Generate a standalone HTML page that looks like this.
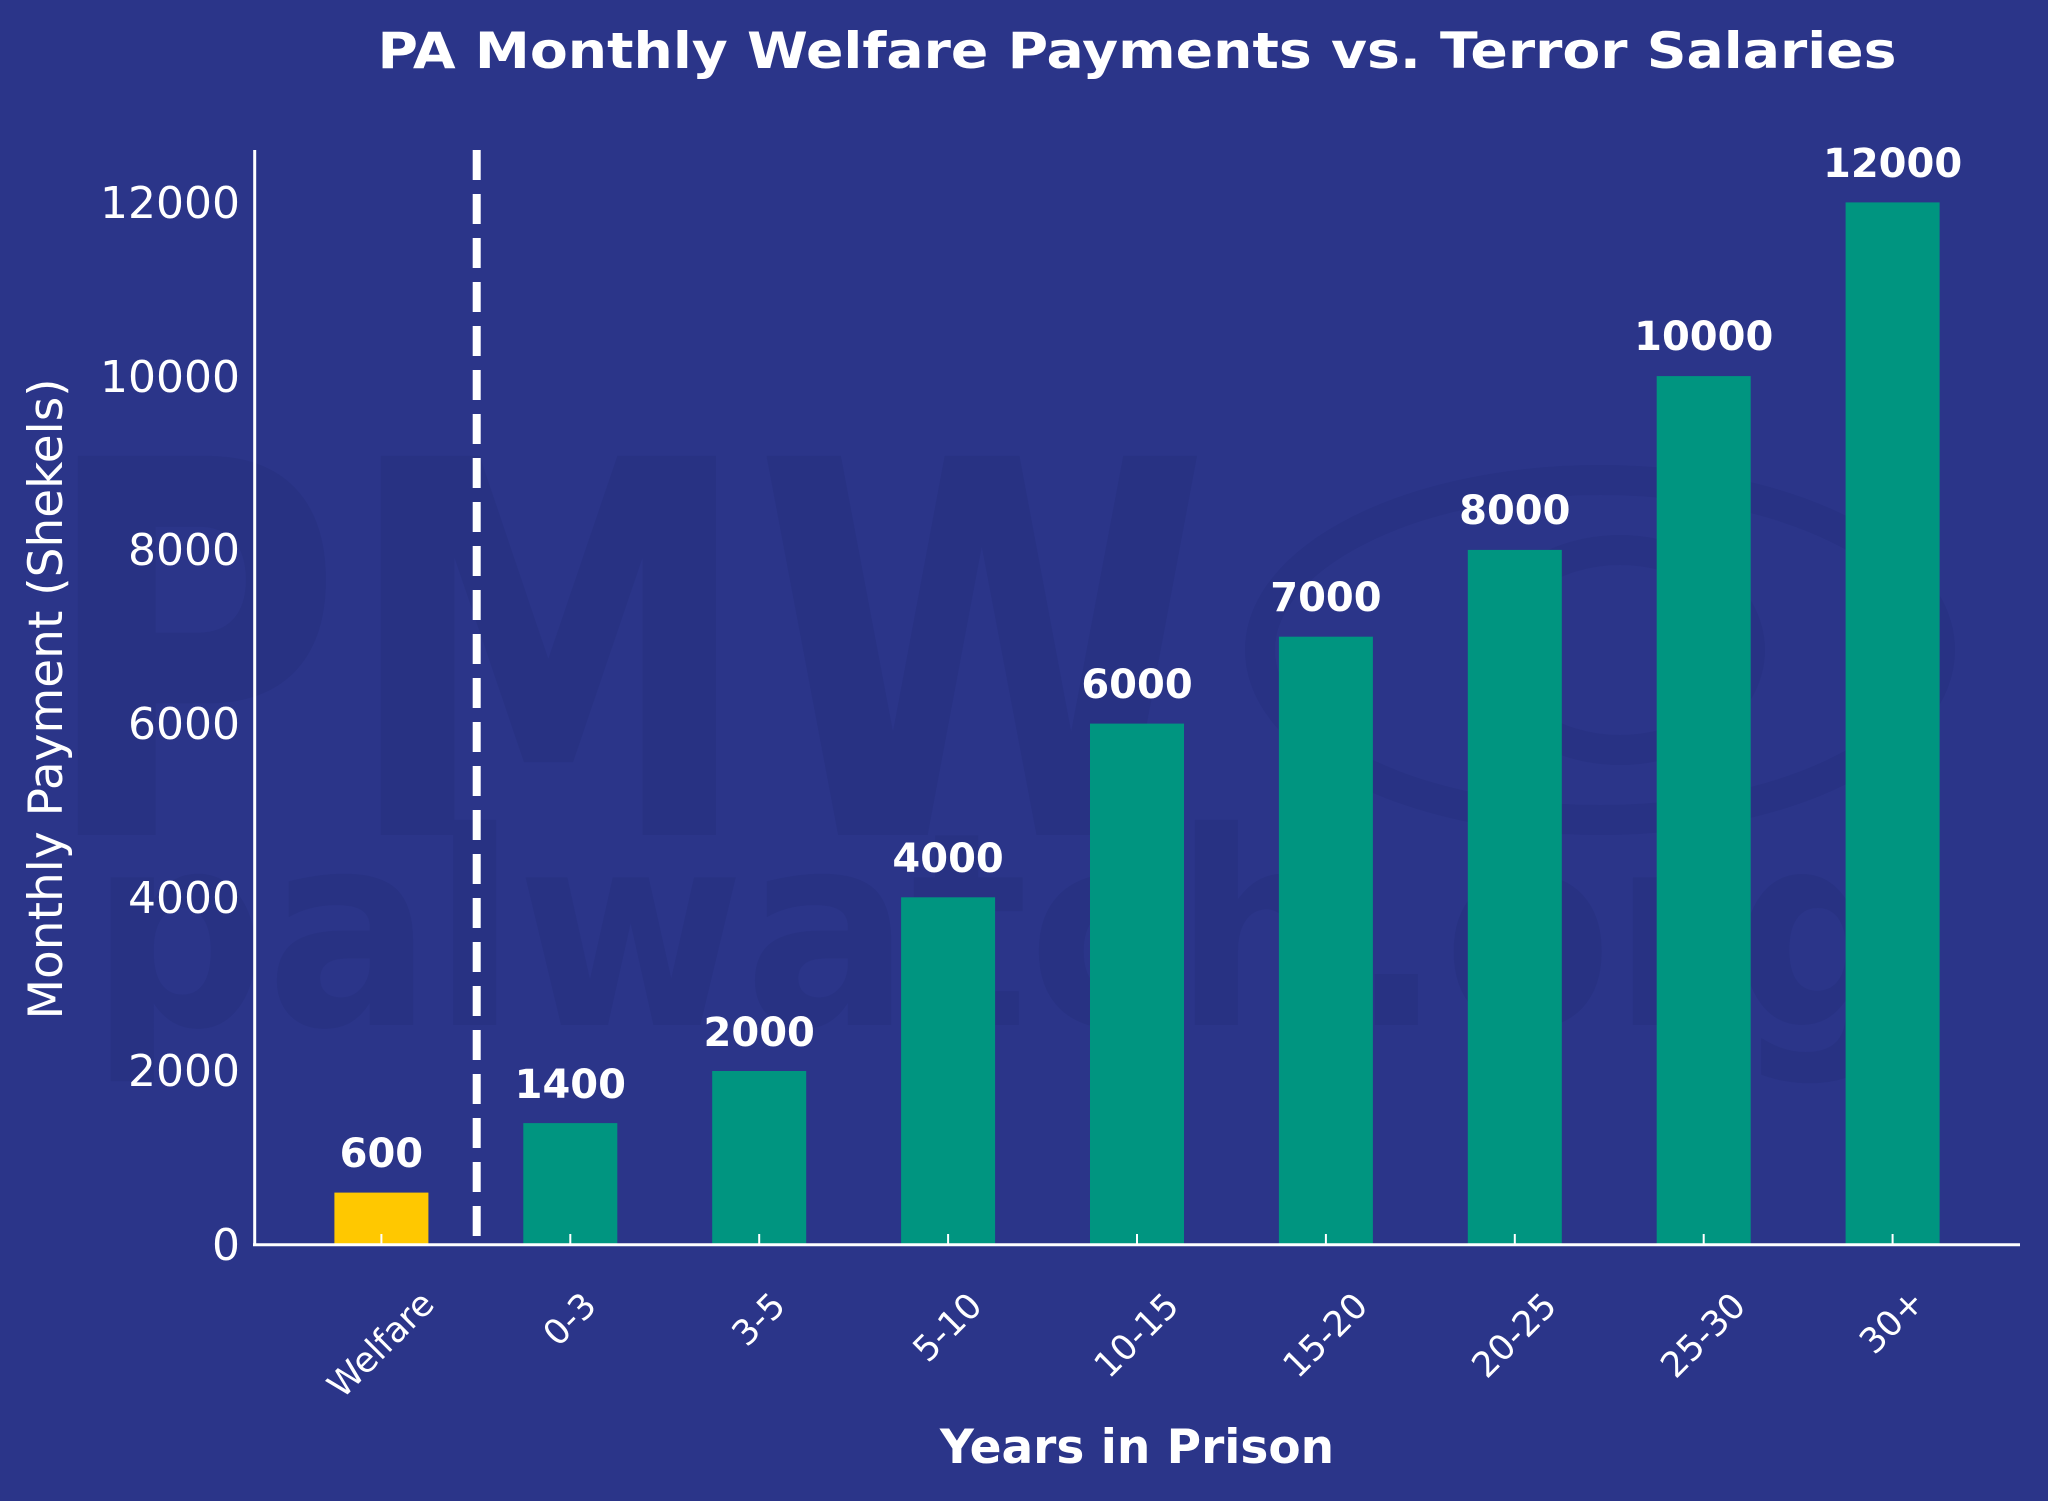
<!DOCTYPE html>
<html><head><meta charset="utf-8"><style>html,body{margin:0;padding:0;background:#2b3589;}svg{display:block}</style></head>
<body>
<svg width="2048" height="1501" viewBox="0 0 2048 1501" xmlns="http://www.w3.org/2000/svg" font-family="DejaVu Sans, Liberation Sans, sans-serif">
<rect width="2048" height="1501" fill="#2b3589"/>
<!-- watermark -->
<g opacity="0.22" fill="#1f2a72">
<text x="40" y="835" font-size="520" font-weight="bold" textLength="1170" lengthAdjust="spacingAndGlyphs">PMW</text>
<text x="90" y="1025" font-size="270" font-weight="bold" textLength="1820" lengthAdjust="spacingAndGlyphs">palwatch.org</text>
</g>
<g opacity="0.2" fill="none" stroke="#1f2a72" stroke-width="30">
<ellipse cx="1600" cy="650" rx="340" ry="170"/>
<ellipse cx="1620" cy="650" rx="130" ry="100"/>
</g>
<text x="1137" y="68" font-size="50" font-weight="bold" fill="#fff" text-anchor="middle" textLength="1519" lengthAdjust="spacingAndGlyphs">PA Monthly Welfare Payments vs. Terror Salaries</text>
<!-- bars -->
<g>
<rect x="334.4" y="1192.6" width="94" height="52.1" fill="#ffc800"/>
<rect x="523.3" y="1123.1" width="94" height="121.6" fill="#009580"/>
<rect x="712.2" y="1071" width="94" height="173.7" fill="#009580"/>
<rect x="901.1" y="897.3" width="94" height="347.4" fill="#009580"/>
<rect x="1090" y="723.6" width="94" height="521.1" fill="#009580"/>
<rect x="1278.9" y="636.7" width="94" height="608" fill="#009580"/>
<rect x="1467.8" y="549.9" width="94" height="694.8" fill="#009580"/>
<rect x="1656.7" y="376.1" width="94" height="868.6" fill="#009580"/>
<rect x="1845.6" y="202.4" width="94" height="1042.3" fill="#009580"/>
</g>
<g font-size="40" font-weight="bold" fill="#fff" text-anchor="middle">
<text x="381.4" y="1167">600</text>
<text x="570.3" y="1098">1400</text>
<text x="759.2" y="1046">2000</text>
<text x="948.1" y="872">4000</text>
<text x="1137" y="698">6000</text>
<text x="1325.9" y="611">7000</text>
<text x="1514.8" y="524">8000</text>
<text x="1703.7" y="350">10000</text>
<text x="1892.6" y="177">12000</text>
</g>
<line x1="476.7" y1="150" x2="476.7" y2="1244.7" stroke="#fff" stroke-width="8" stroke-dasharray="30,14"/>
<!-- axes -->
<line x1="254.7" y1="150" x2="254.7" y2="1246" stroke="#fff" stroke-width="3"/>
<line x1="253" y1="1244.7" x2="2020" y2="1244.7" stroke="#fff" stroke-width="3"/>
<g stroke="#fff" stroke-width="2">
<line x1="381.4" y1="1244" x2="381.4" y2="1234"/><line x1="570.3" y1="1244" x2="570.3" y2="1234"/><line x1="759.2" y1="1244" x2="759.2" y2="1234"/><line x1="948.1" y1="1244" x2="948.1" y2="1234"/><line x1="1137" y1="1244" x2="1137" y2="1234"/><line x1="1325.9" y1="1244" x2="1325.9" y2="1234"/><line x1="1514.8" y1="1244" x2="1514.8" y2="1234"/><line x1="1703.7" y1="1244" x2="1703.7" y2="1234"/><line x1="1892.6" y1="1244" x2="1892.6" y2="1234"/>
</g>
<g font-size="44" fill="#fff" text-anchor="end">
<text x="240" y="1260">0</text>
<text x="240" y="1086">2000</text>
<text x="240" y="913">4000</text>
<text x="240" y="739">6000</text>
<text x="240" y="565">8000</text>
<text x="240" y="392">10000</text>
<text x="240" y="218">12000</text>
</g>
<text transform="translate(62,699) rotate(-90)" font-size="47" fill="#fff" text-anchor="middle">Monthly Payment (Shekels)</text>
<g font-size="35" fill="#fff" text-anchor="middle" dominant-baseline="central">
<text transform="translate(381.4,1345) rotate(-45)">Welfare</text>
<text transform="translate(570.3,1320) rotate(-45)">0-3</text>
<text transform="translate(759.2,1320) rotate(-45)">3-5</text>
<text transform="translate(948.1,1328) rotate(-45)">5-10</text>
<text transform="translate(1137,1336) rotate(-45)">10-15</text>
<text transform="translate(1325.9,1336) rotate(-45)">15-20</text>
<text transform="translate(1514.8,1336) rotate(-45)">20-25</text>
<text transform="translate(1703.7,1336) rotate(-45)">25-30</text>
<text transform="translate(1892.6,1322) rotate(-45)">30+</text>
</g>
<text x="1137" y="1463" font-size="47" font-weight="bold" fill="#fff" text-anchor="middle">Years in Prison</text>
</svg>
</body></html>
